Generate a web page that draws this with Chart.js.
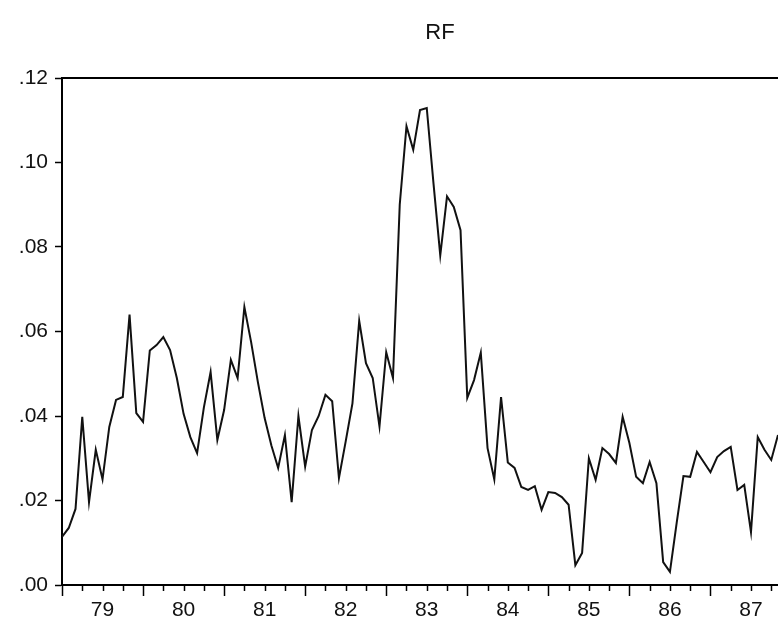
<!DOCTYPE html>
<html lang="en">
<head>
    <meta charset="UTF-8">
    <title>RF</title>
    <script src="https://cdn.jsdelivr.net/npm/chart.js"></script>
    <style>
        body { margin: 0; background: #fff; overflow: hidden; }
        canvas { display: block; }
    </style>
</head>
<body>
    <canvas id="rfChart" width="778" height="625"></canvas>
    <script>
        // monthly RF, Jan 1979 onwards
        const rfValues = [
            0.0114, 0.0135, 0.0180, 0.0398, 0.0196, 0.0320, 0.0250, 0.0374, 0.0438, 0.0445, 0.0640, 0.0407,
            0.0386, 0.0555, 0.0568, 0.0587, 0.0556, 0.0490, 0.0405, 0.0350, 0.0312, 0.0420, 0.0504, 0.0343,
            0.0414, 0.0533, 0.0490, 0.0658, 0.0575, 0.0480, 0.0395, 0.0330, 0.0277, 0.0355, 0.0196, 0.0400,
            0.0280, 0.0367, 0.0400, 0.0450, 0.0435, 0.0253, 0.0340, 0.0430, 0.0625, 0.0525, 0.0490, 0.0375,
            0.0551, 0.0490, 0.0900, 0.1086, 0.1030, 0.1124, 0.1129, 0.0950, 0.0780, 0.0920, 0.0895, 0.0840,
            0.0443, 0.0485, 0.0550, 0.0324, 0.0250, 0.0445, 0.0290, 0.0277, 0.0232, 0.0225, 0.0234, 0.0178,
            0.0220, 0.0218, 0.0208, 0.0190, 0.0047, 0.0076, 0.0300, 0.0249, 0.0324, 0.0310, 0.0289, 0.0398,
            0.0336, 0.0256, 0.0241, 0.0291, 0.0241, 0.0054, 0.0031, 0.0147, 0.0258, 0.0256, 0.0315, 0.0291,
            0.0267, 0.0303, 0.0317, 0.0327, 0.0225, 0.0237, 0.0125, 0.0350, 0.0320, 0.0296, 0.0355
        ];
        const yearLabels = ['79', '80', '81', '82', '83', '84', '85', '86', '87'];
        const yTickValues = [0, 0.02, 0.04, 0.06, 0.08, 0.10, 0.12];

        const fontFamily = '"Liberation Sans", Arial, sans-serif';

        // title, top frame line and the major/minor date ticks
        const framePlugin = {
            id: 'frame',
            afterDraw(chart) {
                const { ctx, chartArea } = chart;
                const xs = chart.scales.x;
                ctx.save();
                ctx.strokeStyle = '#000';
                ctx.lineWidth = 2;
                ctx.beginPath();
                ctx.moveTo(chartArea.left, chartArea.top);
                ctx.lineTo(chartArea.right, chartArea.top);
                ctx.stroke();

                ctx.lineWidth = 1.5;
                xs.ticks.forEach(t => {
                    const px = Math.round(xs.getPixelForValue(t.value)) + 0.5;
                    const len = t.value % 12 === 0 ? 11 : 6;
                    ctx.beginPath();
                    ctx.moveTo(px, chartArea.bottom);
                    ctx.lineTo(px, chartArea.bottom + len);
                    ctx.stroke();
                });

                ctx.fillStyle = '#111';
                ctx.font = '22px ' + fontFamily;
                ctx.textAlign = 'center';
                ctx.textBaseline = 'middle';
                ctx.fillText('RF', 440, 33);
                ctx.restore();
            }
        };

        const ctx = document.getElementById('rfChart').getContext('2d');
        new Chart(ctx, {
            type: 'line',
            data: {
                datasets: [{
                    label: 'RF',
                    data: rfValues.map((v, i) => ({ x: i, y: v })),
                    borderColor: '#111',
                    borderWidth: 2,
                    pointRadius: 0,
                    tension: 0,
                    fill: false
                }]
            },
            options: {
                responsive: false,
                animation: false,
                devicePixelRatio: 1,
                layout: { padding: { top: 78, right: 0, left: 0, bottom: 0 } },
                plugins: {
                    legend: { display: false },
                    title: { display: false },
                    tooltip: { enabled: false }
                },
                scales: {
                    x: {
                        type: 'linear',
                        min: 0,
                        max: 106,
                        afterBuildTicks: scale => {
                            const ticks = [];
                            for (let m = 0; m <= scale.max; m += 3) ticks.push({ value: m });
                            scale.ticks = ticks;
                        },
                        afterFit: scale => {
                            scale.height = 40;
                            scale.paddingLeft = 0;
                            scale.paddingRight = 0;
                        },
                        ticks: {
                            autoSkip: false,
                            maxRotation: 0,
                            padding: 13,
                            color: '#111',
                            font: { size: 21, family: fontFamily },
                            callback: value => value % 12 === 6 ? yearLabels[(value - 6) / 12] : ''
                        },
                        grid: { display: true, drawOnChartArea: false, drawTicks: false },
                        border: { display: true, color: '#000', width: 2 }
                    },
                    y: {
                        min: 0,
                        max: 0.12,
                        afterBuildTicks: scale => {
                            scale.ticks = yTickValues.map(v => ({ value: v }));
                        },
                        afterFit: scale => { scale.width = 62; },
                        ticks: {
                            padding: 7,
                            color: '#111',
                            font: { size: 21, family: fontFamily },
                            callback: value => value.toFixed(2).replace(/^0/, '')
                        },
                        grid: {
                            display: true,
                            drawOnChartArea: false,
                            tickLength: 7,
                            tickColor: '#000',
                            tickWidth: 1.5
                        },
                        border: { display: true, color: '#000', width: 2 }
                    }
                }
            },
            plugins: [framePlugin]
        });
    </script>
</body>
</html>
